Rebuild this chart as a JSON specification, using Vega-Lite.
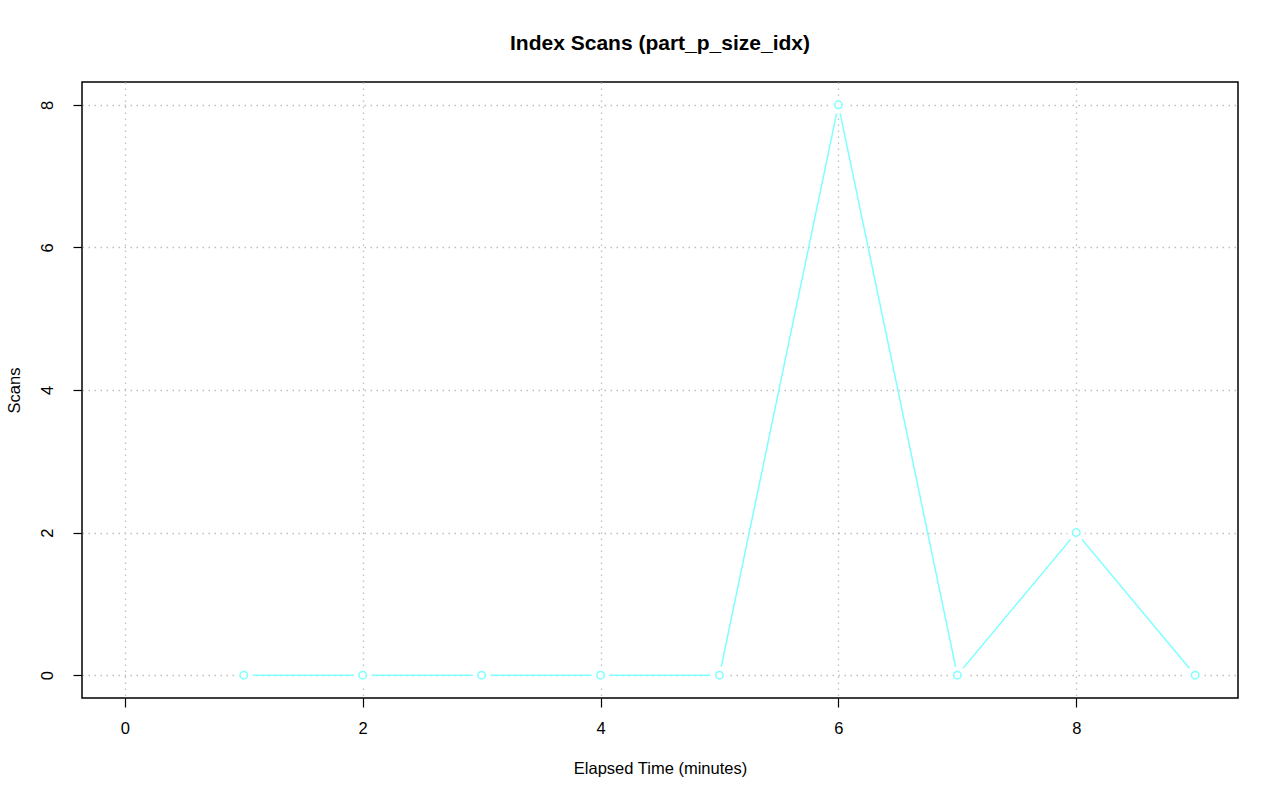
{
  "$schema": "https://vega.github.io/schema/vega-lite/v6.json",
  "width": 1156,
  "height": 616,
  "autosize": {"type": "none"},
  "padding": {"left": 82, "top": 82, "right": 42, "bottom": 103},
  "background": "white",
  "title": {"text": "Index Scans (part_p_size_idx)", "font": "Liberation Sans", "fontSize": 21, "fontWeight": "bold", "color": "black", "anchor": "middle", "offset": 28},
  "config": {
    "view": {"stroke": "black", "strokeWidth": 1.5},
    "axis": {
      "labelFont": "Liberation Sans", "labelFontSize": 16.5, "labelColor": "black",
      "titleFont": "Liberation Sans", "titleFontSize": 16.5, "titleFontWeight": "normal", "titleColor": "black",
      "domain": false, "tickColor": "black", "tickSize": 9, "tickWidth": 1.2,
      "grid": true, "gridColor": "#BEBEBE", "gridDash": [1.5, 4.5], "gridWidth": 1.3,
      "zindex": 1
    }
  },
  "data": {"values": [
    {"t": 1, "scans": 0}, {"t": 2, "scans": 0}, {"t": 3, "scans": 0},
    {"t": 4, "scans": 0}, {"t": 5, "scans": 0}, {"t": 6, "scans": 8},
    {"t": 7, "scans": 0}, {"t": 8, "scans": 2}, {"t": 9, "scans": 0}
  ]},
  "encoding": {
    "x": {"field": "t", "type": "quantitative", "scale": {"domain": [-0.36, 9.36], "nice": false, "zero": false},
      "axis": {"title": "Elapsed Time (minutes)", "values": [0, 2, 4, 6, 8], "labelPadding": 13, "titlePadding": 24}},
    "y": {"field": "scans", "type": "quantitative", "scale": {"domain": [-0.32, 8.32], "nice": false, "zero": false},
      "axis": {"title": "Scans", "values": [0, 2, 4, 6, 8], "labelAngle": -90, "labelAlign": "center", "labelBaseline": "bottom", "labelPadding": 18, "titlePadding": 17}}
  },
  "layer": [
    {"mark": {"type": "line", "color": "#7FFFFF", "strokeWidth": 1.5}},
    {"mark": {"type": "point", "shape": "circle", "filled": true, "fill": "white", "opacity": 1, "strokeWidth": 0, "size": 324}},
    {"mark": {"type": "point", "shape": "circle", "filled": false, "color": "#7FFFFF", "opacity": 1, "strokeWidth": 1.5, "size": 56}}
  ]
}
